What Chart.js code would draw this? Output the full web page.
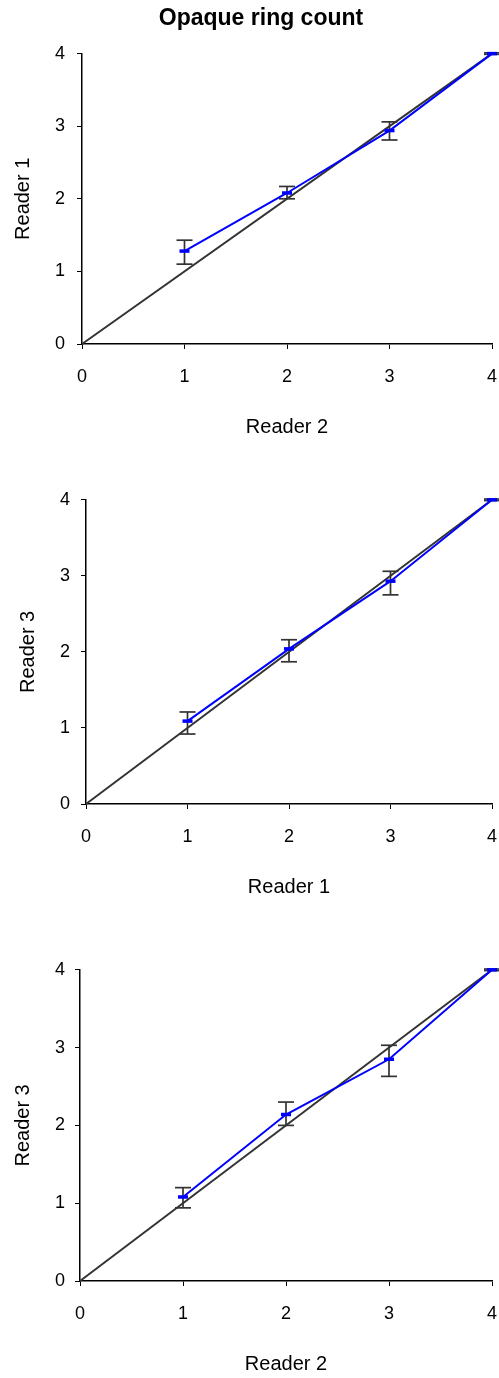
<!DOCTYPE html>
<html>
<head>
<meta charset="utf-8">
<script src="https://cdn.jsdelivr.net/npm/chart.js"></script>
<style>
  html, body { margin: 0; padding: 0; background: #fff; overflow: hidden; width: 499px; height: 1378px; }
  canvas { position: absolute; left: 0; }
</style>
</head>
<body>
<canvas id="chart1" width="523" height="443" style="top:0px"></canvas>
<canvas id="chart2" width="523" height="425" style="top:478px"></canvas>
<canvas id="chart3" width="523" height="431" style="top:949px"></canvas>
<script>
// ticks on both axes (0..4) and the x positions of the means
var tickValues = [0, 1, 2, 3, 4];
var meanX = [1, 2, 3, 4];

// Reader 1 vs Reader 2
var r1r2Mean = [1.28, 2.08, 2.94, 4.00];
var r1r2Low  = [1.10, 2.00, 2.81, 3.99];
var r1r2High = [1.43, 2.17, 3.06, 4.01];

// Reader 3 vs Reader 1
var r3r1Mean = [1.09, 2.04, 2.93, 4.00];
var r3r1Low  = [0.92, 1.87, 2.75, 3.99];
var r3r1High = [1.21, 2.16, 3.06, 4.01];

// Reader 3 vs Reader 2
var r3r2Mean = [1.08, 2.14, 2.85, 4.00];
var r3r2Low  = [0.94, 2.00, 2.63, 3.99];
var r3r2High = [1.20, 2.30, 3.03, 4.01];

var FONT = "'Liberation Sans', Arial, sans-serif";

function errorPoints(low, high) {
  var pts = [];
  meanX.forEach((x, i) => {
    pts.push({x: x, y: low[i]}, {x: x, y: high[i]}, {x: x, y: null});
  });
  return pts;
}

function makeChart(id, xTitle, yTitle, mean, low, high, opt) {
  var ctx = document.getElementById(id).getContext('2d');
  return new Chart(ctx, {
    type: 'scatter',
    data: {
      datasets: [{
        data: meanX.map((x, i) => ({x: x, y: mean[i]})),
        showLine: true,
        borderColor: '#0000FF',
        backgroundColor: '#0000FF',
        borderWidth: 2,
        pointStyle: 'line',
        pointRadius: 5,
        pointBorderWidth: 3.5,
        clip: false
      }, {
        data: errorPoints(low, high),
        showLine: true,
        spanGaps: false,
        borderColor: '#333333',
        borderWidth: 1.7,
        pointStyle: 'line',
        pointRadius: 8,
        pointBorderWidth: 1.7,
        clip: false
      }, {
        data: [{x: 0, y: 0}, {x: 4, y: 4}],
        showLine: true,
        borderColor: '#333333',
        borderWidth: 2,
        pointRadius: 0,
        clip: false
      }]
    },
    options: {
      responsive: false,
      animation: false,
      events: [],
      layout: { padding: { left: opt.padLeft, right: 31, top: opt.padTop, bottom: 0 } },
      plugins: {
        legend: { display: false },
        tooltip: { enabled: false },
        title: opt.title ? {
          display: true,
          text: opt.title,
          color: '#000',
          font: { family: FONT, size: 23, weight: 'bold' },
          padding: { top: 5, bottom: 21 }
        } : { display: false }
      },
      scales: {
        x: {
          type: 'linear',
          min: 0, max: 4,
          afterBuildTicks: s => { s.ticks = tickValues.map(v => ({value: v})); },
          afterFit: s => { s.height = 99; },
          grid: { drawOnChartArea: false, drawTicks: true, tickLength: 5, color: '#000' },
          border: { display: true, color: '#000', width: 1.5 },
          ticks: { color: '#000', font: { family: FONT, size: 18 }, padding: 17, maxRotation: 0 },
          title: { display: true, text: xTitle, color: '#000', font: { family: FONT, size: 20 }, padding: { top: 0, bottom: 4 } }
        },
        y: {
          type: 'linear',
          min: 0, max: 4,
          afterBuildTicks: s => { s.ticks = tickValues.map(v => ({value: v})); },
          afterFit: s => { s.width = opt.axisX - opt.padLeft; },
          grid: { drawOnChartArea: false, drawTicks: true, tickLength: 5, color: '#000' },
          border: { display: true, color: '#000', width: 1.5 },
          ticks: { color: '#000', font: { family: FONT, size: 18 }, padding: opt.tickPad },
          title: { display: true, text: yTitle, color: '#000', font: { family: FONT, size: 20 }, padding: { top: opt.titlePad, bottom: 0 } }
        }
      }
    }
  });
}

// chart 1: left padding keeps the title centred where the reference has it
makeChart('chart1', 'Reader 2', 'Reader 1', r1r2Mean, r1r2Low, r1r2High,
  { title: 'Opaque ring count', padTop: 0, padLeft: 30, axisX: 82, tickPad: 12, titlePad: -19 });
makeChart('chart2', 'Reader 1', 'Reader 3', r3r1Mean, r3r1Low, r3r1High,
  { padTop: 15, padLeft: 0, axisX: 86, tickPad: 11, titlePad: 16 });
makeChart('chart3', 'Reader 2', 'Reader 3', r3r2Mean, r3r2Low, r3r2High,
  { padTop: 15, padLeft: 0, axisX: 80, tickPad: 10, titlePad: 11 });
</script>
</body>
</html>
